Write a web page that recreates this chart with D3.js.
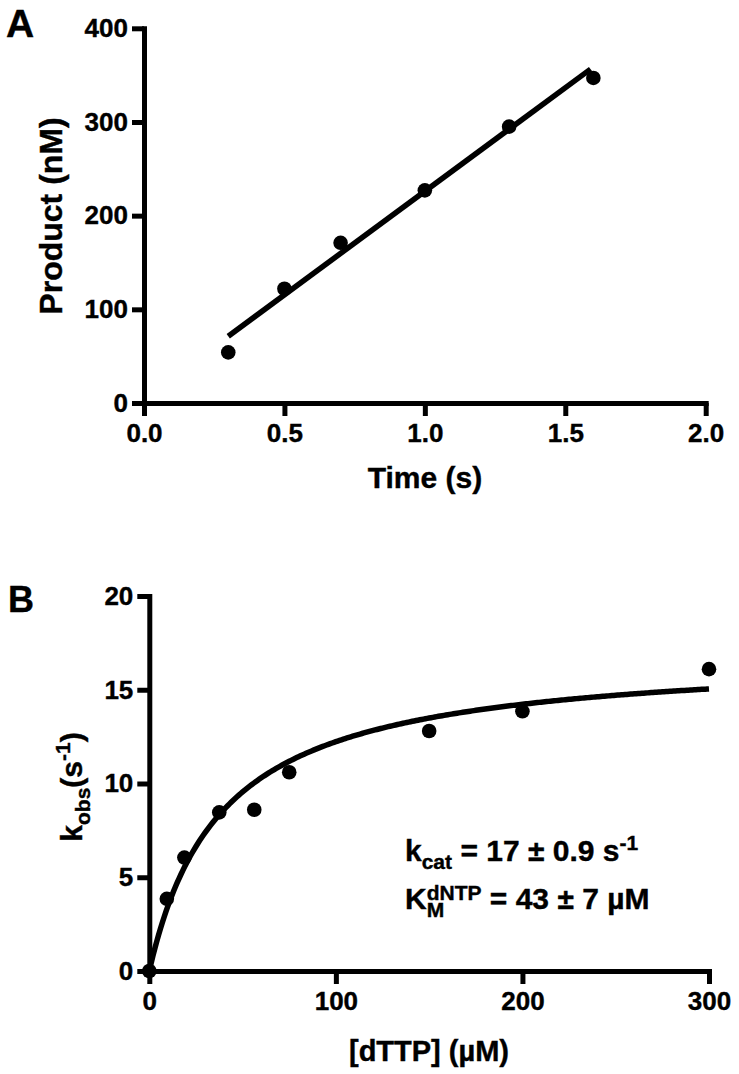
<!DOCTYPE html>
<html><head><meta charset="utf-8">
<script src="https://cdn.jsdelivr.net/npm/d3@7"></script>
<style>
html,body{margin:0;padding:0;background:#fff;}
svg text{font-family:"Liberation Sans",Arial,Helvetica,sans-serif;font-weight:bold;fill:#000;}
</style></head><body>
<svg id="c" width="739" height="1074"></svg>
<script>
// ---------- Panel A data ----------
const timeS = [0.3, 0.5, 0.7, 1.0, 1.3, 1.6];
const productNM = [54, 122, 171, 227, 295, 347];
const fitASlope = 221;       // nM per s (drawn fit line)
const fitAIntercept = 5;     // nM
const fitATime = [0.3, 1.59];
const timeTicks = [0, 0.5, 1.0, 1.5, 2.0];
const productTicks = [0, 100, 200, 300, 400];

// ---------- Panel B data ----------
const dTTP = [0, 9.4, 18.8, 37.5, 56.25, 75, 150, 200, 300];
const kobs = [0, 3.85, 6.05, 8.46, 8.6, 10.6, 12.8, 13.85, 16.1];
const fitBKcat = 17;   // s^-1, drawn hyperbola
const fitBKm = 39;     // µM, drawn hyperbola
const fitBRange = [0, 300];
const dTTPTicks = [0, 100, 200, 300];
const kobsTicks = [0, 5, 10, 15, 20];

const svg = d3.select("#c");
svg.append("rect").attr("width", 739).attr("height", 1074).attr("fill", "#fff");

function styleAxis(g, fs) {
  g.select(".domain").attr("stroke", "#000").attr("stroke-width", 5).attr("stroke-linecap", "square");
  g.selectAll(".tick line").attr("stroke", "#000").attr("stroke-width", 5);
  g.selectAll(".tick text").attr("font-size", fs).attr("font-family", null).attr("fill", "#000")
    .attr("stroke", "#000").attr("stroke-width", 0.4);
}

// ================= Panel A =================
const xA = d3.scaleLinear().domain([0, 2]).range([144, 705.7]);
const yA = d3.scaleLinear().domain([0, 400]).range([403, 28.3]);

const gAx = svg.append("g").attr("transform", `translate(0,${yA(0)})`)
  .call(d3.axisBottom(xA).tickValues(timeTicks).tickFormat(d3.format(".1f"))
    .tickSize(13).tickSizeOuter(0).tickPadding(8));
styleAxis(gAx, 26);
const gAy = svg.append("g").attr("transform", `translate(${xA(0)},0)`)
  .call(d3.axisLeft(yA).tickValues(productTicks).tickFormat(d3.format("d"))
    .tickSize(12).tickSizeOuter(0).tickPadding(4));
styleAxis(gAy, 26);

const lineA = d3.line().x(d => xA(d)).y(d => yA(fitAIntercept + fitASlope * d));
svg.append("path").datum(fitATime).attr("d", lineA)
  .attr("fill", "none").attr("stroke", "#000").attr("stroke-width", 5.5);

svg.append("g").selectAll("circle").data(timeS).join("circle")
  .attr("cx", d => xA(d)).attr("cy", (d, i) => yA(productNM[i])).attr("r", 7.3).attr("fill", "#000");

const T = (sel) => sel.attr("stroke", "#000").attr("stroke-width", 0.4);

T(svg.append("text").attr("x", 425).attr("y", 488).attr("text-anchor", "middle")
  .attr("font-size", 30).text("Time (s)"));
T(svg.append("text").attr("transform", "translate(62,216) rotate(-90)").attr("text-anchor", "middle")
  .attr("font-size", 32).text("Product (nM)"));
T(svg.append("text").attr("x", 6).attr("y", 37).attr("font-size", 39).text("A"));

// ================= Panel B =================
const xB = d3.scaleLinear().domain([0, 300]).range([149.3, 709]);
const yB = d3.scaleLinear().domain([0, 20]).range([971, 596]);

const gBx = svg.append("g").attr("transform", `translate(0,${yB(0)})`)
  .call(d3.axisBottom(xB).tickValues(dTTPTicks).tickFormat(d3.format("d"))
    .tickSize(13).tickSizeOuter(0).tickPadding(8));
styleAxis(gBx, 26);
const gBy = svg.append("g").attr("transform", `translate(${xB(0)},0)`)
  .call(d3.axisLeft(yB).tickValues(kobsTicks).tickFormat(d3.format("d"))
    .tickSize(12).tickSizeOuter(0).tickPadding(4));
styleAxis(gBy, 26);

const curveX = d3.range(fitBRange[0], fitBRange[1] + 0.001, 1);
const lineB = d3.line().x(d => xB(d)).y(d => yB(fitBKcat * d / (fitBKm + d)));
svg.append("path").datum(curveX).attr("d", lineB)
  .attr("fill", "none").attr("stroke", "#000").attr("stroke-width", 5.5);

svg.append("g").selectAll("circle").data(dTTP).join("circle")
  .attr("cx", d => xB(d)).attr("cy", (d, i) => yB(kobs[i])).attr("r", 7.3).attr("fill", "#000");

T(svg.append("text").attr("x", 429).attr("y", 1061).attr("text-anchor", "middle")
  .attr("font-size", 29).text("[dTTP] (µM)"));

const yl = T(svg.append("text").attr("transform", "translate(82,787) rotate(-90)")
  .attr("text-anchor", "middle").attr("font-size", 30));
yl.append("tspan").text("k");
yl.append("tspan").attr("font-size", 21).attr("dy", 8).text("obs");
yl.append("tspan").attr("dy", -8).text("(s");
yl.append("tspan").attr("font-size", 21).attr("dy", -12).text("-1");
yl.append("tspan").attr("dy", 12).text(")");

T(svg.append("text").attr("x", 8).attr("y", 612).attr("font-size", 36).text("B"));

// annotation
const aFs = 30, aSub = 21;
const l1 = T(svg.append("text").attr("x", 405).attr("y", 861).attr("font-size", aFs));
l1.append("tspan").text("k");
l1.append("tspan").attr("font-size", aSub).attr("dy", 8).text("cat");
l1.append("tspan").attr("dy", -8).text(" = 17 ± 0.9 s");
l1.append("tspan").attr("font-size", aSub).attr("dy", -11).text("-1");

const base2 = 909;
const kM = T(svg.append("text").attr("x", 405).attr("y", base2).attr("font-size", aFs).text("K"));
const kW = kM.node().getComputedTextLength();
const sub = T(svg.append("text").attr("x", 405 + kW).attr("y", base2 + 8).attr("font-size", aSub).text("M"));
const sup = T(svg.append("text").attr("x", 405 + kW).attr("y", base2 - 9).attr("font-size", aSub).text("dNTP"));
const wMax = Math.max(sub.node().getComputedTextLength(), sup.node().getComputedTextLength());
T(svg.append("text").attr("x", 405 + kW + wMax).attr("y", base2).attr("font-size", aFs)
  .style("white-space", "pre").text(" = 43 ± 7 µM"));
</script>
</body></html>
